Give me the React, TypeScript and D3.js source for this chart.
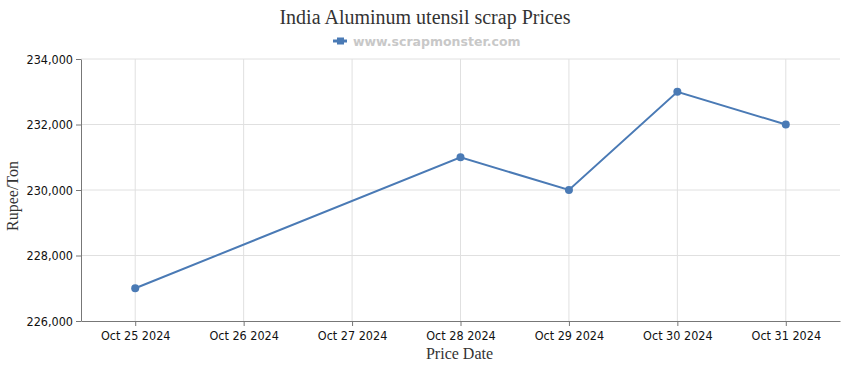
import React, { useEffect, useRef } from "react";
import * as d3 from "d3";

const dates = ["2024-10-25", "2024-10-28", "2024-10-29", "2024-10-30", "2024-10-31"];
const prices = [227000, 231000, 230000, 233000, 232000];
const yTicks = [226000, 228000, 230000, 232000, 234000];
const xTickDates = ["2024-10-25", "2024-10-26", "2024-10-27", "2024-10-28", "2024-10-29", "2024-10-30", "2024-10-31"];

const App = () => {
  const svgRef = useRef<SVGSVGElement>(null);

  useEffect(() => {
    const svg = d3.select(svgRef.current);
    svg.selectAll("*").remove();

    const width = 850;
    const height = 370;
    const left = 81;
    const right = 840;
    const top = 59;
    const bottom = 321;
    const lineColor = "#4a7ab5";
    const parse = d3.utcParse("%Y-%m-%d");
    const data = dates.map((d, i) => ({ date: parse(d)!, value: prices[i] }));
    const tickDates = xTickDates.map((d) => parse(d)!);

    const halfDay = 12 * 3600 * 1000;
    const x = d3
      .scaleUtc()
      .domain([
        new Date(tickDates[0].getTime() - halfDay),
        new Date(tickDates[tickDates.length - 1].getTime() + halfDay),
      ])
      .range([left, right]);

    const y = d3.scaleLinear().domain([226000, 234000]).range([bottom, top]);

    svg.attr("width", width).attr("height", height);

    // grid
    svg
      .append("g")
      .selectAll("line")
      .data(tickDates)
      .enter()
      .append("line")
      .attr("x1", (d) => x(d))
      .attr("x2", (d) => x(d))
      .attr("y1", top)
      .attr("y2", bottom)
      .attr("stroke", "#e0e0e0");

    svg
      .append("g")
      .selectAll("line")
      .data(yTicks.slice(1))
      .enter()
      .append("line")
      .attr("x1", left)
      .attr("x2", right)
      .attr("y1", (d) => y(d))
      .attr("y2", (d) => y(d))
      .attr("stroke", "#e0e0e0");

    const tickFont = "'DejaVu Sans Condensed', 'DejaVu Sans', sans-serif";

    const yAxis = svg
      .append("g")
      .attr("transform", `translate(${left},0)`)
      .call(
        d3
          .axisLeft(y)
          .tickValues(yTicks)
          .tickSize(5)
          .tickSizeOuter(0)
          .tickFormat((d) => d3.format(",")(d as number))
      );
    yAxis.select(".domain").attr("stroke", "#777");
    yAxis.selectAll(".tick line").attr("stroke", "#777");
    yAxis
      .selectAll("text")
      .attr("fill", "#111")
      .style("font-family", tickFont)
      .style("font-size", "12.5px")
      .attr("x", -8);

    const xAxis = svg
      .append("g")
      .attr("transform", `translate(0,${bottom})`)
      .call(
        d3
          .axisBottom(x)
          .tickValues(tickDates)
          .tickSize(5)
          .tickSizeOuter(0)
          .tickFormat((d) => d3.utcFormat("%b %d %Y")(d as Date))
      );
    xAxis.select(".domain").attr("stroke", "#777");
    xAxis.selectAll(".tick line").attr("stroke", "#777");
    xAxis
      .selectAll("text")
      .attr("fill", "#111")
      .style("font-family", tickFont)
      .style("font-size", "12.5px")
      .attr("y", 10);

    // line
    const line = d3
      .line<{ date: Date; value: number }>()
      .x((d) => x(d.date))
      .y((d) => y(d.value));

    svg
      .append("path")
      .datum(data)
      .attr("fill", "none")
      .attr("stroke", lineColor)
      .attr("stroke-width", 2)
      .attr("d", line);

    svg
      .append("g")
      .selectAll("circle")
      .data(data)
      .enter()
      .append("circle")
      .attr("cx", (d) => x(d.date))
      .attr("cy", (d) => y(d.value))
      .attr("r", 4)
      .attr("fill", lineColor);

    // titles
    svg
      .append("text")
      .attr("x", 425)
      .attr("y", 24)
      .attr("text-anchor", "middle")
      .style("font-family", "'Liberation Serif', serif")
      .style("font-size", "20px")
      .attr("fill", "#333")
      .text("India Aluminum utensil scrap Prices");

    const legend = svg.append("g").attr("transform", "translate(333,41)");
    legend
      .append("line")
      .attr("x1", 0)
      .attr("x2", 14)
      .attr("y1", 0)
      .attr("y2", 0)
      .attr("stroke", lineColor)
      .attr("stroke-width", 3);
    legend
      .append("rect")
      .attr("x", 4)
      .attr("y", -3.5)
      .attr("width", 7)
      .attr("height", 7)
      .attr("fill", lineColor);
    legend
      .append("text")
      .attr("x", 20)
      .attr("y", 4.5)
      .style("font-family", "'DejaVu Sans', sans-serif")
      .style("font-size", "12.5px")
      .style("font-weight", "bold")
      .attr("fill", "#c8c8c8")
      .text("www.scrapmonster.com");

    svg
      .append("text")
      .attr("x", (left + right) / 2 - 1)
      .attr("y", 359)
      .attr("text-anchor", "middle")
      .style("font-family", "'Liberation Serif', serif")
      .style("font-size", "16px")
      .attr("fill", "#333")
      .text("Price Date");

    svg
      .append("text")
      .attr("transform", `translate(18,${(top + bottom) / 2 + 6}) rotate(-90)`)
      .attr("text-anchor", "middle")
      .style("font-family", "'Liberation Serif', serif")
      .style("font-size", "16px")
      .attr("fill", "#333")
      .text("Rupee/Ton");
  }, []);

  return <svg ref={svgRef} style={{ position: "absolute", left: 0, top: 0 }} />;
};

export default App;
